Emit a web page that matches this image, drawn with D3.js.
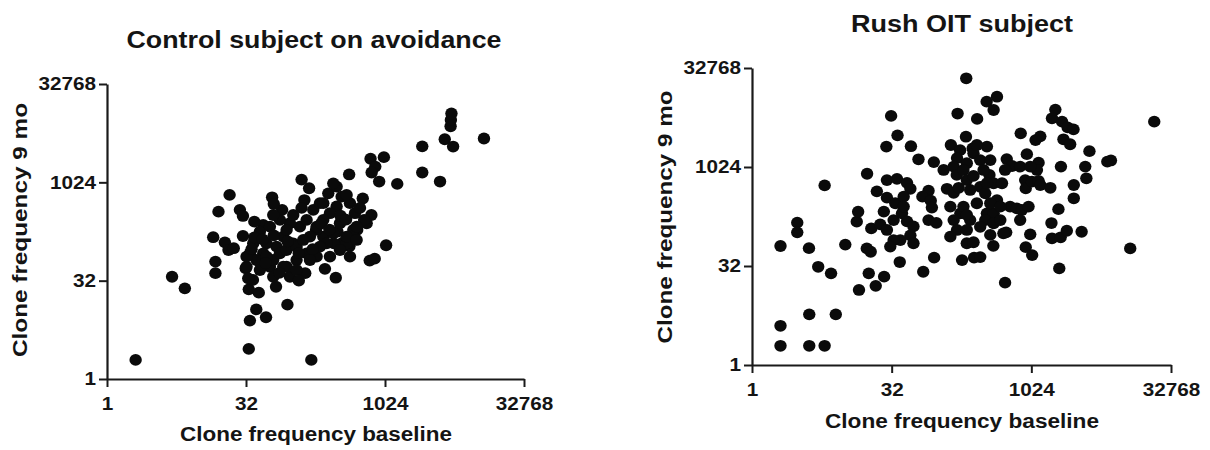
<!DOCTYPE html>
<html><head><meta charset="utf-8">
<script src="https://cdn.jsdelivr.net/npm/d3@7"></script>
<style>
body{margin:0;background:#fff}
svg text{font-family:"Liberation Sans",Arial,sans-serif;font-weight:bold;fill:#141414}
</style>
</head><body><svg id="chart" width="1210" height="450"></svg>
<script>
// Axis ticks (values are log2 of clone frequency)
const tickLog2 = [0, 5, 10, 15];
const tickLabels = ["1", "32", "1024", "32768"];
const xAxisTitle = "Clone frequency baseline";
const yAxisTitle = "Clone frequency 9 mo";
const panelTitles = ["Control subject on avoidance", "Rush OIT subject"];

// Control subject: log2 clone frequency at baseline / at 9 months
const ctrlBaselineLog2 = [
 1.03,2.34,2.8,5.1,7.35,6.49,5.14,5.37,5.72,5.1,
 5.46,5.25,4.99,6.08,8.23,7.84,7.13,3.9,3.9,3.82,
 4.24,4.37,4.56,4.89,4.01,4.41,4.78,4.89,5.94,6.3,
 7.0,7.27,7.1,8.71,9.2,9.48,9.96,9.65,9.52,9.79,
 10.44,11.34,11.34,11.98,12.15,12.45,12.36,12.37,12.39,13.56,
 10.04,9.45,9.63,9.51,9.34,8.74,8.72,8.48,9.25,9.0,
 8.87,8.16,8.29,7.78,7.52,5.62,5.5,5.14,5.02,5.08,
 5.86,5.98,6.58,7.54,7.96,8.26,8.92,8.86,8.62,8.26,
 8.02,7.78,8.38,8.62,8.14,7.9,7.54,7.3,7.66,7.18,
 6.82,6.46,6.7,6.94,6.58,6.34,6.1,5.74,5.62,5.38,
 5.5,5.98,6.22,6.46,6.82,7.06,7.18,7.42,7.66,6.7,
 6.46,5.86,6.22,5.26,5.02,5.74,6.34,6.82,7.3,8.02,
 8.38,8.98,8.98,8.74,8.44,8.14,7.78,8.62,5.98,5.3,
 5.6,6.0,6.5,6.9,7.4,7.0,6.0,5.3,5.7,6.2,
 5.2,7.7,8.4,8.0,8.6,9.1,6.9
];
const ctrlNineMoLog2 = [
 0.97,5.2,4.61,1.53,0.97,3.78,2.97,3.54,3.14,4.56,
 4.39,5.04,5.63,4.69,5.15,5.6,5.38,5.38,5.97,7.21,
 6.95,6.56,6.65,7.27,8.51,9.36,8.6,8.29,9.24,8.6,
 10.14,9.7,9.1,10.4,9.18,11.2,11.28,10.8,10.5,10.04,
 9.92,11.83,10.5,10.04,12.19,11.82,12.85,13.17,13.5,12.23,
 6.8,6.02,6.12,8.34,7.92,6.22,6.75,6.93,8.09,7.58,
 7.24,6.9,7.49,7.24,7.58,7.83,7.49,6.39,5.71,5.12,
 5.71,5.2,5.2,6.22,9.44,9.78,8.43,7.58,6.9,8.77,
 8.43,8.09,7.92,7.24,7.41,6.9,7.75,7.24,6.73,6.39,
 6.05,5.71,6.9,7.75,7.92,7.24,6.73,6.9,6.39,6.05,
 5.54,6.05,6.39,6.56,6.73,7.07,8.09,8.6,8.94,8.34,
 7.58,7.75,8.09,6.9,6.22,6.22,5.71,5.54,6.05,6.22,
 6.56,7.07,7.75,8.94,9.27,9.95,8.94,9.36,8.34,7.2,
 7.1,7.3,7.0,6.4,6.6,8.7,8.9,8.0,5.9,5.4,
 6.6,7.9,8.3,7.6,8.1,8.7,5.0
];

// Rush OIT subject: log2 clone frequency at baseline / at 9 months
const rushBaselineLog2 = [
 1.02,2.05,2.6,1.02,2.05,3.0,1.02,1.62,1.62,2.04,
 2.37,2.83,2.6,3.34,3.83,4.43,4.18,4.73,4.11,4.25,
 3.75,3.8,4.12,4.47,4.27,4.59,4.81,4.98,5.21,5.29,
 5.69,5.96,6.13,6.52,6.51,6.86,7.36,7.67,8.06,8.4,
 8.77,8.65,7.66,7.52,7.95,8.17,9.06,9.62,10.32,10.15,
 10.86,10.74,11.1,11.3,11.51,11.15,11.39,12.08,11.06,11.93,
 11.97,12.72,12.85,14.4,13.54,11.0,11.8,10.72,10.74,11.05,
 11.27,10.97,11.52,11.52,9.96,9.8,10.03,8.64,9.1,4.83,
 5.19,5.55,5.67,4.83,5.13,5.43,4.72,5.07,5.37,5.55,
 5.78,5.67,5.31,5.07,4.83,4.95,5.43,5.78,6.32,6.1,
 6.4,6.44,6.32,6.6,6.98,7.1,7.22,7.46,7.22,7.34,
 7.1,7.69,7.93,7.12,7.45,7.9,7.34,7.22,7.69,7.93,
 8.17,8.41,8.05,8.53,7.33,7.57,7.69,7.93,8.17,7.81,
 8.5,8.65,7.4,8.29,8.95,8.35,8.05,7.57,8.41,8.65,
 8.77,8.53,8.35,7.81,7.69,8.17,7.69,8.65,9.0,8.53,
 8.89,9.24,9.48,9.66,9.9,9.6,8.89,9.12,9.31,9.6,
 9.06,9.84,10.26,10.2,9.96,9.78,9.8,10.02,10.26,10.32,
 10.68,8.41
];
const rushNineMoLog2 = [
 0.97,0.97,0.97,1.98,2.56,2.56,6.01,7.19,6.7,5.9,
 4.96,4.63,9.07,6.08,3.79,4.0,4.63,4.46,5.89,5.72,
 7.24,7.74,9.66,8.77,6.9,7.1,11.03,12.58,11.6,5.2,
 11.05,10.39,4.71,5.42,10.25,9.85,12.7,14.48,12.43,13.3,
 13.55,12.88,11.53,5.3,5.42,5.45,4.16,11.7,11.55,11.36,
 12.9,12.46,12.29,12.0,11.9,11.4,11.15,10.8,10.02,10.02,
 9.43,10.27,10.33,12.29,5.89,4.88,6.73,7.17,6.4,6.45,
 6.78,7.87,8.42,9.09,6.6,5.95,5.55,6.02,6.7,9.34,
 9.4,9.2,8.9,8.45,8.17,8.5,7.75,7.32,7.66,7.25,
 7.0,6.55,6.31,6.31,6.82,5.98,8.0,6.15,8.8,8.5,
 8.3,7.95,7.32,7.18,8.9,8.0,8.7,7.66,7.32,6.82,
 6.48,6.15,6.2,11.11,10.85,10.94,10.45,10.02,10.19,10.69,
 10.35,11.03,11.11,10.35,9.6,9.85,9.34,9.55,9.0,8.84,
 9.6,9.18,8.95,9.85,9.18,8.67,8.17,8.0,7.66,7.66,
 8.33,8.17,7.32,7.32,6.82,6.98,7.58,7.16,6.65,6.57,
 7.32,8.0,7.91,7.83,8.0,7.32,8.0,10.4,10.05,10.02,
 9.85,10.65,10.22,9.85,10.02,9.34,8.92,9.26,9.3,9.09,
 8.95,9.18
];

const STRETCH = 1.15; // reference text is slightly wide
const svg = d3.select("#chart");
svg.append("rect").attr("width",1210).attr("height",450).attr("fill","#fff");

const layouts = [
  {xs:ctrlBaselineLog2, ys:ctrlNineMoLog2, x0:107, x1:524, y0:379, y1:84,
   tX:314, tY:48, tW:375, xlX:316, xlY:441, xlW:272, ylX:27, ylY:230, ylW:254},
  {xs:rushBaselineLog2, ys:rushNineMoLog2, x0:752, x1:1171, y0:365, y1:68,
   tX:962, tY:32, tW:222, xlX:962, xlY:428, xlW:274, ylX:672, ylY:217, ylW:253}
];

function stretchText(sel){
  sel.each(function(){
    const w = this.getComputedTextLength();
    d3.select(this).attr("textLength", w*STRETCH).attr("lengthAdjust","spacingAndGlyphs");
  });
}

layouts.forEach((L, i) => {
  const x = d3.scaleLinear().domain([0,15]).range([L.x0, L.x1]);
  const y = d3.scaleLinear().domain([0,15]).range([L.y0, L.y1]);
  const g = svg.append("g");

  // dots
  g.append("g").selectAll("ellipse")
    .data(L.xs.map((v,k)=>[v, L.ys[k]]))
    .join("ellipse")
    .attr("cx", d=>x(d[0])).attr("cy", d=>y(d[1]))
    .attr("rx", 6.2).attr("ry", 5.9).attr("fill", "#0a0a0a");

  // axes
  const xa = g.append("g").attr("transform", `translate(0,${L.y0})`)
    .call(d3.axisBottom(x).tickValues(tickLog2).tickFormat((d,k)=>tickLabels[k])
      .tickSize(8).tickSizeOuter(0).tickPadding(10));
  const ya = g.append("g").attr("transform", `translate(${L.x0},0)`)
    .call(d3.axisLeft(y).tickValues(tickLog2).tickFormat((d,k)=>tickLabels[k])
      .tickSize(8).tickSizeOuter(0).tickPadding(3));
  [xa, ya].forEach(a => {
    a.select(".domain").attr("stroke","#1a1a1a").attr("stroke-width",2.2);
    a.selectAll(".tick line").attr("stroke","#1a1a1a").attr("stroke-width",2);
    a.selectAll(".tick text").attr("font-size",18).attr("fill","#141414")
      .style("font-family",'"Liberation Sans",Arial,sans-serif').style("font-weight","bold");
    stretchText(a.selectAll(".tick text"));
  });

  // title
  g.append("text").attr("x", L.tX).attr("y", L.tY).attr("text-anchor","middle")
    .attr("font-size", 23).attr("textLength", L.tW).attr("lengthAdjust","spacingAndGlyphs")
    .text(panelTitles[i]);
  // x axis title
  g.append("text").attr("x", L.xlX).attr("y", L.xlY).attr("text-anchor","middle")
    .attr("font-size", 20).attr("textLength", L.xlW).attr("lengthAdjust","spacingAndGlyphs")
    .text(xAxisTitle);
  // y axis title
  g.append("text").attr("transform", `translate(${L.ylX},${L.ylY}) rotate(-90)`)
    .attr("text-anchor","middle")
    .attr("font-size", 20).attr("textLength", L.ylW).attr("lengthAdjust","spacingAndGlyphs")
    .text(yAxisTitle);
});
</script>
</body></html>
